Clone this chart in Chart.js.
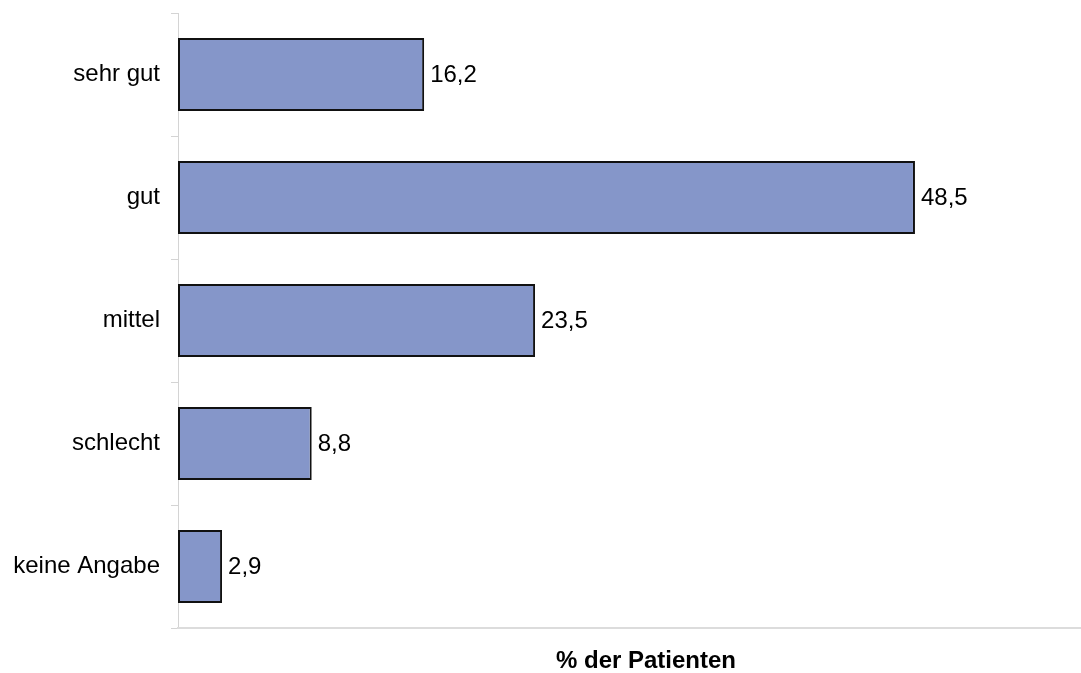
<!DOCTYPE html>
<html>
<head>
<meta charset="utf-8">
<script src="https://cdn.jsdelivr.net/npm/chart.js@4/dist/chart.umd.min.js"></script>
<style>
  html, body { margin: 0; padding: 0; background: #fff; overflow: hidden; }
  #wrap { width: 1081px; height: 673px; overflow: hidden; }
</style>
</head>
<body>
<div id="wrap">
  <canvas id="chart" width="1114" height="673"></canvas>
</div>
<script>
// categories and values (% der Patienten)
const categories = ['sehr gut', 'gut', 'mittel', 'schlecht', 'keine Angabe'];
const values = [16.2, 48.5, 23.5, 8.8, 2.9];
const axisTitle = '% der Patienten';

const fontFamily = '"Liberation Sans", Arial, sans-serif';

// writes the value next to each bar, with a decimal comma
const valueLabels = {
  id: 'valueLabels',
  afterDatasetsDraw(chart) {
    const ctx = chart.ctx;
    const meta = chart.getDatasetMeta(0);
    ctx.save();
    ctx.font = '24px ' + fontFamily;
    ctx.fillStyle = '#000';
    ctx.textAlign = 'left';
    ctx.textBaseline = 'middle';
    meta.data.forEach((bar, i) => {
      const txt = values[i].toFixed(1).replace('.', ',');
      ctx.fillText(txt, bar.x + 6, bar.y + 1);
    });
    ctx.restore();
  }
};

new Chart(document.getElementById('chart'), {
  type: 'bar',
  data: {
    labels: categories,
    datasets: [{
      data: values,
      backgroundColor: '#8596c9',
      borderColor: '#111',
      borderWidth: 2,
      borderSkipped: false,
      categoryPercentage: 1,
      barPercentage: 0.593
    }]
  },
  options: {
    indexAxis: 'y',
    responsive: false,
    animation: false,
    layout: { padding: { top: 13, left: 0, right: 0, bottom: 0 } },
    plugins: {
      legend: { display: false },
      tooltip: { enabled: false }
    },
    scales: {
      y: {
        grid: {
          display: true,
          drawOnChartArea: false,
          drawTicks: true,
          tickLength: 7,
          color: '#d4d4d4',
          offset: true
        },
        border: { color: '#d4d4d4', width: 1 },
        ticks: {
          color: '#000',
          padding: 11,
          font: { family: fontFamily, size: 24 }
        },
        afterFit(scale) {
          scale.width = 178;
          scale.paddingTop = 0;
          scale.paddingBottom = 0;
        }
      },
      x: {
        min: 0,
        max: 61.6,
        grid: { display: false },
        border: { color: '#dcdcdc', width: 2 },
        ticks: { display: false },
        title: {
          display: true,
          text: axisTitle,
          color: '#000',
          font: { family: fontFamily, size: 24, weight: 'bold' },
          padding: { top: 0, bottom: -3 }
        },
        afterFit(scale) { scale.height = 45; }
      }
    }
  },
  plugins: [valueLabels]
});
</script>
</body>
</html>
